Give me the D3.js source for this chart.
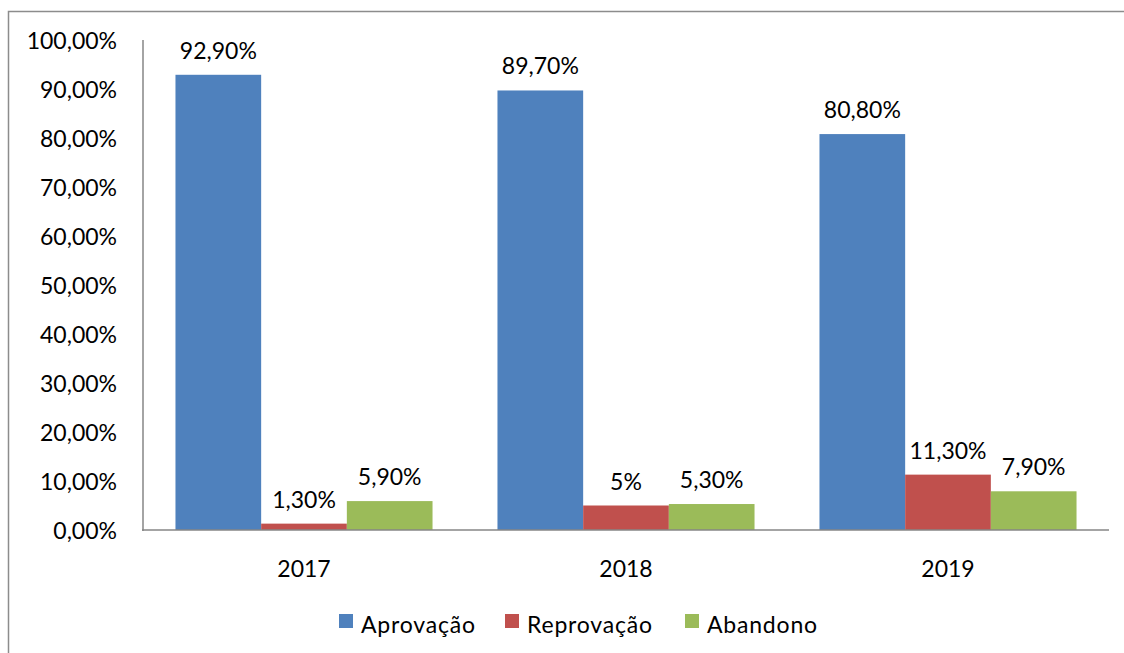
<!DOCTYPE html>
<html><head><meta charset="utf-8">
<script src="https://cdn.jsdelivr.net/npm/d3@7"></script>
<style>body{margin:0;background:#fff}svg{display:block}text{font-family:Lato,"Open Sans",sans-serif;fill:#000}</style>
</head><body><svg id="c" width="1124" height="653"></svg>
<script>
const categories = ["2017","2018","2019"];
const seriesNames = ["Aprovação","Reprovação","Abandono"];
const aprovacao = [92.9, 89.7, 80.8];
const reprovacao = [1.3, 5, 11.3];
const abandono = [5.9, 5.3, 7.9];
const yTicks = [0,10,20,30,40,50,60,70,80,90,100];
const colors = ["#4F81BD","#C0504D","#9BBB59"];
const series = [aprovacao, reprovacao, abandono];

const svg = d3.select("#c");
const fs = 23;
// border
svg.append("rect").attr("x",8.5).attr("y",11.5).attr("width",1130).attr("height",660)
  .attr("fill","none").attr("stroke","#8c8c8c").attr("stroke-width",1.5);

const x0 = d3.scaleBand().domain(categories).range([143,1109]).padding(0);
const x1 = d3.scaleBand().domain(seriesNames).range([0,x0.bandwidth()]).paddingInner(0).paddingOuter(0.379);
const y = d3.scaleLinear().domain([0,100]).range([530,40]);

const fmtNum = v => {
  if (Number.isInteger(v)) return v + "%";
  return v.toFixed(2).replace(".", ",") + "%";
};

// y tick labels
svg.append("g").selectAll("text").data(yTicks).join("text")
  .attr("x",117).attr("y",d=>y(d)).attr("dy","0.38em").attr("text-anchor","end")
  .attr("font-size",fs).text(d=>d.toFixed(2).replace(".",",")+"%");

// bars
const g = svg.append("g");
categories.forEach((c,ci)=>{
  seriesNames.forEach((s,si)=>{
    const v = series[si][ci];
    g.append("rect").attr("x",x0(c)+x1(s)).attr("y",y(v)).attr("width",x1.bandwidth())
      .attr("height",y(0)-y(v)).attr("fill",colors[si]);
    g.append("text").attr("x",x0(c)+x1(s)+x1.bandwidth()/2).attr("y",y(v)-16)
      .attr("text-anchor","middle").attr("font-size",fs).text(fmtNum(v));
  });
});

// axes lines
svg.append("line").attr("x1",143).attr("x2",143).attr("y1",y(100)).attr("y2",y(0)+1)
  .attr("stroke","#868686").attr("stroke-width",1.5);
svg.append("line").attr("x1",142).attr("x2",1109).attr("y1",y(0)).attr("y2",y(0))
  .attr("stroke","#868686").attr("stroke-width",1.5);

// category labels
svg.append("g").selectAll("text").data(categories).join("text")
  .attr("x",d=>x0(d)+x0.bandwidth()/2).attr("y",577).attr("text-anchor","middle")
  .attr("font-size",fs).text(d=>d);

// legend
const legX = [339,505,685];
seriesNames.forEach((s,i)=>{
  svg.append("rect").attr("x",legX[i]).attr("y",614).attr("width",14).attr("height",14).attr("fill",colors[i]);
  svg.append("text").attr("x",legX[i]+22).attr("y",633).attr("font-size",fs)
    .attr("letter-spacing",0.8).text(s);
});
</script></body></html>
